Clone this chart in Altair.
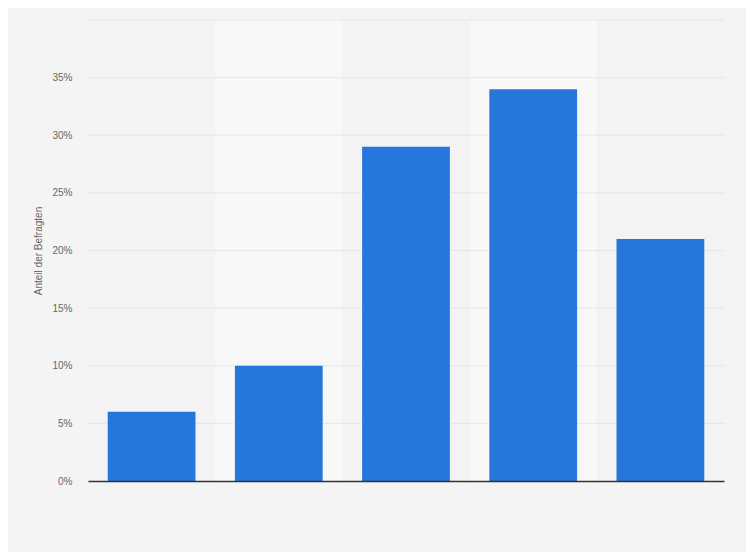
import altair as alt
import pandas as pd

categories = ["A", "B", "C", "D", "E"]
values = [0.06, 0.10, 0.29, 0.34, 0.21]
shaded = ["B", "D"]
grid_values = [0.05, 0.10, 0.15, 0.20, 0.25, 0.30, 0.35, 0.40]

df = pd.DataFrame({"cat": categories, "val": values})
bg = pd.DataFrame({"cat": shaded, "hi": [0.40, 0.40]})
gdf = pd.DataFrame({"g": grid_values})

yscale = alt.Scale(domain=[0, 0.40], nice=False)

band_layer = alt.Chart(bg).mark_bar(color="#f8f8f8", width={"band": 1.449}).encode(
    x=alt.X("cat:N", sort=categories),
    y=alt.Y("hi:Q", scale=yscale),
)

grid_layer = alt.Chart(gdf).mark_rule(color="#d6d6d6", strokeDash=[1, 1], strokeWidth=1).encode(
    y=alt.Y("g:Q", scale=yscale),
)

bars = alt.Chart(df).mark_bar(color="#2776dc").encode(
    x=alt.X("cat:N", sort=categories, title=None,
            scale=alt.Scale(paddingInner=0.31, paddingOuter=0.155),
            axis=alt.Axis(labels=False, ticks=False, domain=True, zindex=1,
                          domainColor="#333333", domainWidth=1.5, grid=False)),
    y=alt.Y("val:Q", title="Anteil der Befragten", scale=yscale,
            axis=alt.Axis(format=".0%", values=[0, 0.05, 0.10, 0.15, 0.20, 0.25, 0.30, 0.35],
                          domain=False, ticks=False, grid=False,
                          labelColor="#666666", labelFontSize=10, labelFont="Arial, Liberation Sans",
                          labelPadding=16,
                          titleColor="#666666", titleFontSize=10, titleFont="Arial, Liberation Sans",
                          titleFontWeight="normal", titlePadding=8)),
)

chart = alt.layer(band_layer, grid_layer, bars).properties(
    width=636, height=461,
    background="#f4f4f4",
    autosize=alt.AutoSizeParams(type="none"),
    padding={"left": 80, "top": 12, "right": 22, "bottom": 71},
).configure_view(stroke=None, fill="#f3f3f3")

chart.save("out.html", embed_options={"renderer": "svg", "actions": False})
